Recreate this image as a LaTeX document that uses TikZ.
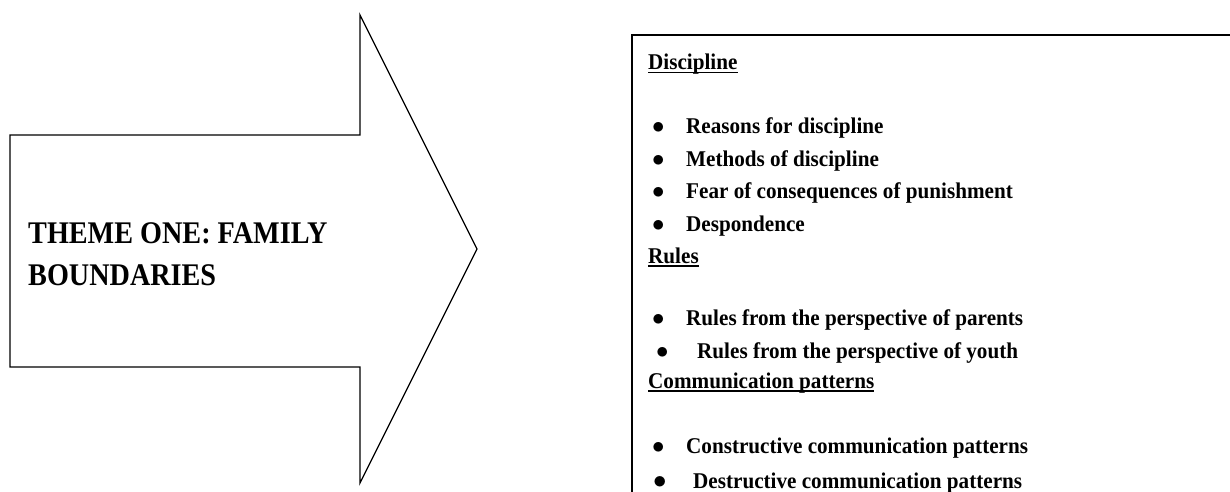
\documentclass[tikz,border=0pt]{standalone}
\usepackage{fontspec}
\setmainfont{Liberation Serif}
\newfontfamily\itemfont{Liberation Serif}[FakeStretch=0.94]
\newfontfamily\titlefont{Liberation Serif}[FakeStretch=0.895]
\newcommand\ulx[1]{\setbox0\hbox{#1}\rlap{\rule[-3.5pt]{\wd0}{1.6pt}}\box0}
\begin{document}
\begin{tikzpicture}[x=1pt,y=-1pt,
  outline/.style={draw=black,line width=1.3pt,line join=miter},
  item/.style={anchor=base west,inner sep=0pt,font=\itemfont\fontsize{22.5}{27}\selectfont\bfseries},
  titletext/.style={anchor=base west,inner sep=0pt,font=\titlefont\fontsize{31.5}{38}\selectfont\bfseries}]
\useasboundingbox (0,0) rectangle (1230,492);
% arrow
\draw[outline] (10,135) -- (360,135) -- (360,15) -- (477,249) -- (360,483) -- (360,367) -- (10,367) -- cycle;
\node[titletext] (t1) at (28,243) {THEME ONE: FAMILY};
\node[titletext] (t2) at (28,285) {BOUNDARIES};
% box (only top and left edges visible)
\draw[outline] (1231,35) -- (632,35) -- (632,493);
\node[item] (h1) at (648,70) {\ulx{Discipline}};
\node[item] (b1) at (652,133) {\scalebox{1.2}{$\bullet$}};
\node[item] (i1) at (686,133) {Reasons for discipline};
\node[item] (b2) at (652,166) {\scalebox{1.2}{$\bullet$}};
\node[item] (i2) at (686,166) {Methods of discipline};
\node[item] (b3) at (652,198) {\scalebox{1.2}{$\bullet$}};
\node[item] (i3) at (686,198) {Fear of consequences of punishment};
\node[item] (b4) at (652,231) {\scalebox{1.2}{$\bullet$}};
\node[item] (i4) at (686,231) {Despondence};
\node[item] (h2) at (648,263) {\ulx{Rules}};
\node[item] (b5) at (652,325) {\scalebox{1.2}{$\bullet$}};
\node[item] (i5) at (686,325) {Rules from the perspective of parents};
\node[item] (b6) at (656,358) {\scalebox{1.2}{$\bullet$}};
\node[item] (i6) at (697,358) {Rules from the perspective of youth};
\node[item] (h3) at (648,388) {\ulx{Communication patterns}};
\node[item] (b7) at (652,453) {\scalebox{1.2}{$\bullet$}};
\node[item] (i7) at (686,453) {Constructive communication patterns};
\node[item] (b8) at (653,488) {\scalebox{1.3}{$\bullet$}};
\node[item] (i8) at (693,488) {Destructive communication patterns};
\end{tikzpicture}
\end{document}
